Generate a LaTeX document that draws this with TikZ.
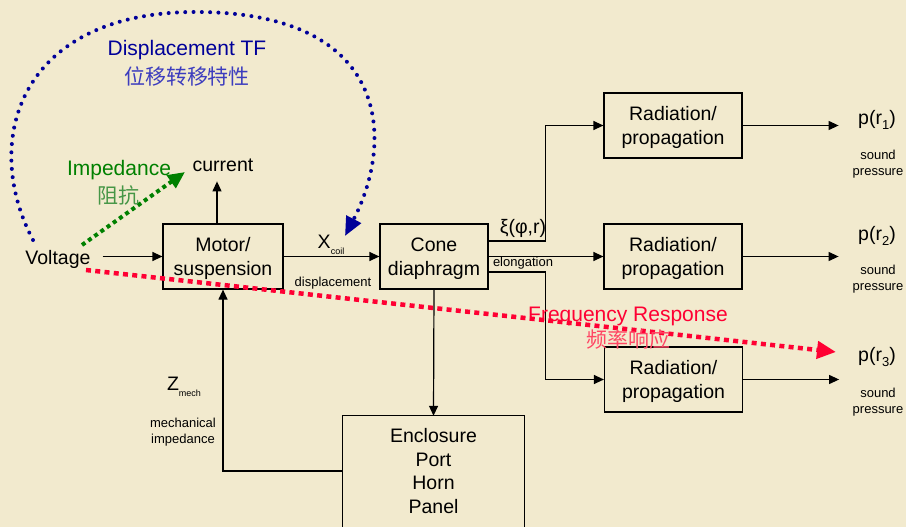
\documentclass[tikz,border=0pt]{standalone}
\usepackage{fontspec}
\setmainfont{Liberation Sans}
\newfontfamily\cjk{Noto Sans CJK SC}
\usetikzlibrary{arrows.meta}
\definecolor{paper}{RGB}{242,234,206}
\definecolor{tfblue}{RGB}{0,0,153}
\definecolor{tfbluelt}{RGB}{60,60,190}
\definecolor{impgreen}{RGB}{0,128,0}
\definecolor{impgreenlt}{RGB}{70,150,70}
\definecolor{frred}{RGB}{255,0,51}
\definecolor{frredlt}{RGB}{255,70,100}
\newcommand{\lowsub}[2]{\raisebox{-#2}{\fontsize{9}{9}\selectfont #1}}
\begin{document}
\begin{tikzpicture}[x=1pt,y=-1pt,
  txt/.style={font=\fontsize{19.5}{23.5}\selectfont, align=center, inner sep=0pt},
  lbl/.style={txt, yshift=-2pt},
  small/.style={font=\fontsize{13}{16.5}\selectfont, align=center, inner sep=0pt, yshift=-2pt},
  big/.style={font=\fontsize{21}{25}\selectfont, align=center, inner sep=0pt, yshift=-2pt},
  block/.style={draw, line width=1.2pt, minimum height=65pt, inner sep=0pt},
  arr/.style={line width=1.2pt, -{Triangle[length=10pt,width=9pt]}},
  line/.style={line width=1.2pt},
  bluedots/.style={tfblue, line width=4pt, line cap=round, dash pattern=on 0pt off 8.3pt,
    -{Triangle[length=19pt,width=16pt]}},
  greendots/.style={impgreen, line width=4pt, dash pattern=on 4pt off 3.6pt,
    -{Triangle[length=17pt,width=15pt]}},
  reddots/.style={frred, line width=4.5pt, dash pattern=on 5pt off 4.3pt,
    -{Triangle[length=19pt,width=17pt]}}]
\useasboundingbox (0,0) rectangle (906,527);
\fill[paper] (0,0) rectangle (906,527);

% blocks: frame first, caption on top
\node[block, minimum width=120pt] (motor) at (223,256.5) {};
\node[lbl] (motortxt) at (motor) {Motor/\\suspension};
\node[block, minimum width=108pt] (cone) at (434,256.5) {};
\node[lbl] (conetxt) at (cone) {Cone\\diaphragm};
\node[block, minimum width=138pt] (rad1) at (673,125.5) {};
\node[lbl] (rad1txt) at (rad1) {Radiation/\\propagation};
\node[block, minimum width=138pt] (rad2) at (673,256.5) {};
\node[lbl] (rad2txt) at (rad2) {Radiation/\\propagation};
\node[block, minimum width=138pt] (rad3) at (673.5,379.5) {};
\node[lbl] (rad3txt) at (rad3) {Radiation/\\propagation};
\node[txt, minimum width=181pt, minimum height=110pt] (encl) at (433.5,471)
  {Enclosure\\Port\\Horn\\Panel};
\draw[line] ([yshift=-8pt]encl.south west) -- (encl.north west) -- (encl.north east)
  -- ([yshift=-8pt]encl.south east);

% plain labels
\node[lbl] (volt) at (58,257) {Voltage};
\node[lbl] (current) at (223,163) {current};
\node[lbl] (xcoil) at (331,243) {X\lowsub{coil}{6pt}};
\node[small] (xdisp) at (333,281) {displacement};
\node[lbl] (xi) at (523,226) {ξ(φ,r)};
\node[small] (elong) at (523,261) {elongation};
\node[lbl] (zmech) at (184,385) {Z\lowsub{mech}{6pt}};
\node[small] (zimp) at (183,430) {mechanical\\impedance};
\node[lbl] (p1) at (877,118) {p(r\lowsub{\fontsize{13}{13}\selectfont 1}{5pt})};
\node[small] (s1) at (878,162) {sound\\pressure};
\node[lbl] (p2) at (877,234) {p(r\lowsub{\fontsize{13}{13}\selectfont 2}{5pt})};
\node[small] (s2) at (878,277) {sound\\pressure};
\node[lbl] (p3) at (877,355) {p(r\lowsub{\fontsize{13}{13}\selectfont 3}{5pt})};
\node[small] (s3) at (878,400) {sound\\pressure};

% signal flow
\path (motor.west -| volt.east) ++(12,0) coordinate (vin);
\draw[arr] (vin) -- (motor.west);
\draw[arr] (motor.east) -- (cone.west);
\draw[arr] ([xshift=-6pt]motor.north) -- ++(0,-42);
\draw[arr] (encl.west) -| (motor.south);
\draw[arr] (cone.south) -- (encl.north);
\draw[arr] ([yshift=15.5pt]cone.east) -- ++(57,0) |- (rad1.west);
\draw[arr] (cone.east) -- (rad2.west);
\draw[arr] ([yshift=-15.5pt]cone.east) -- ++(57,0) |- (rad3.west);
\draw[arr] (rad1.east) -- ++(96,0);
\draw[arr] (rad2.east) -- ++(96,0);
\draw[arr] (rad3.east) -- ++(96,0);

% transfer functions
\coordinate (tfstart) at (33,240);
\coordinate (tfend) at (345,236);
\draw[bluedots] (tfstart) .. controls (-20,140) and (20,10) .. (200,12)
  .. controls (390,14) and (395,140) .. (tfend);
\node[big, text=tfblue] (tflabel) at (187,48) {Displacement TF};
\node[big, text=tfbluelt] (tfzh) at (187,74) {\cjk 位移转移特性};

\coordinate (impstart) at (82,245);
\coordinate (impend) at (185,172);
\draw[greendots] (impstart) -- (impend);
\node[big, text=impgreen] (implabel) at (119,168) {Impedance};
\node[big, text=impgreenlt] (impzh) at (118,193) {\cjk 阻抗};

\coordinate (frstart) at (86,270);
\coordinate (frend) at (836,352);
\draw[reddots] (frstart) -- (frend);
\node[big, text=frred] (frlabel) at (628,314) {Frequency Response};
\node[big, text=frredlt] (frzh) at (628,338) {\cjk 频率响应};
\end{tikzpicture}
\end{document}
